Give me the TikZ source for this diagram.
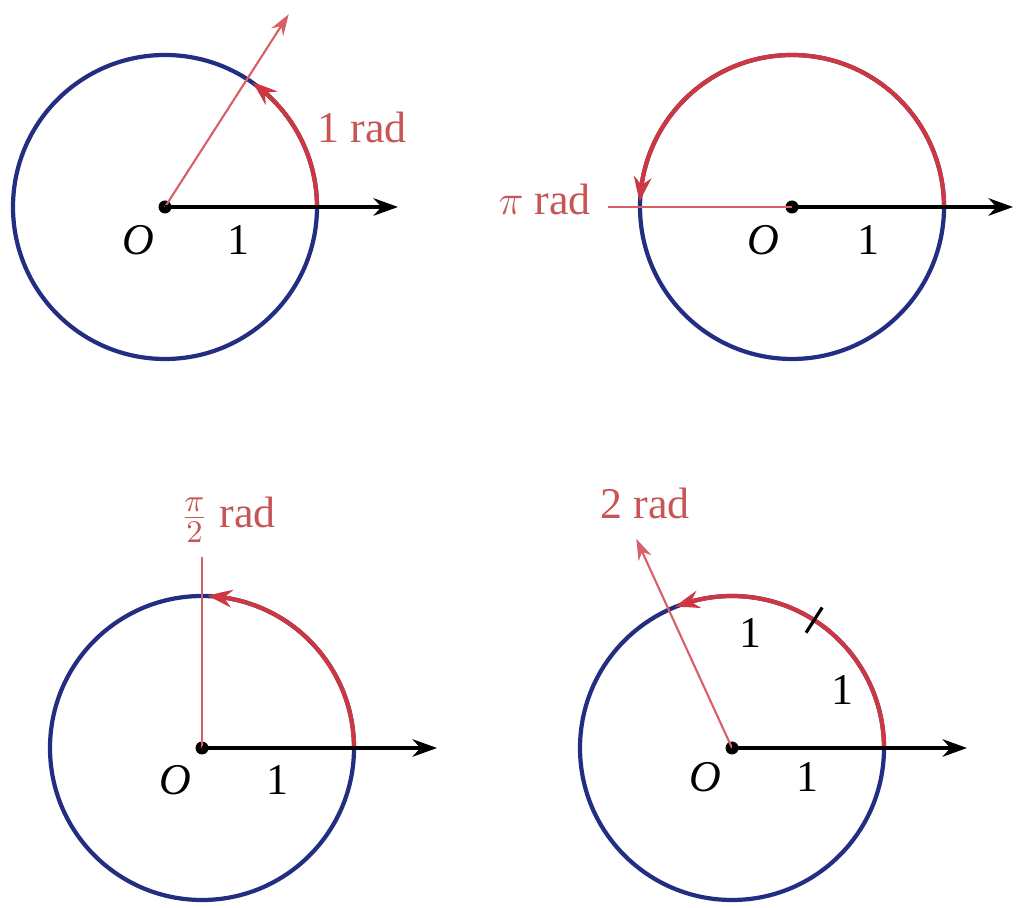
\documentclass[tikz,border=0pt]{standalone}
\usepackage{fontspec}
\setmainfont{Liberation Serif}
\usepackage{tikz}
\usetikzlibrary{arrows.meta, bending, positioning, calc}
\definecolor{circblue}{RGB}{35,45,130}
\definecolor{arcred}{RGB}{205,55,65}
\definecolor{labred}{RGB}{200,85,85}

\begin{document}
\begin{tikzpicture}[
  every node/.style={font=\fontsize{12.5}{15}\selectfont},
  >=Stealth,
  unitcirc/.style={circblue, line width=1.2pt},
  axis/.style={-{Stealth[length=7pt,width=5pt]}, line width=0.9pt},
  redarc/.style={arcred, line width=1.2pt, -{Stealth[length=7pt,width=5pt,bend]}},
  ray/.style={arcred!80, line width=0.6pt},
  lab/.style={text=labred},
  dot/.style={circle, fill, inner sep=0pt, minimum size=1.3mm}
]
\useasboundingbox (0,0) rectangle (10.17,9.07);

% 1 rad
\coordinate (c1) at (1.65,7.00);
\draw[unitcirc] (c1) circle (1.52);
\draw[redarc] ($(c1)+(0:1.52)$) arc (0:55:1.52);
\coordinate (t1) at ($(c1)+(57.3:2.29)$);
\coordinate (x1) at ($(c1)+(2.33,0)$);
\node[dot] (o1) at (c1) {};
\draw[ray, -{Stealth[length=6pt,width=4pt]}] (o1.center) -- (t1);
\draw[axis] (o1.center) -- (x1);
\node (O1) at ($(c1)+(-0.27,-0.33)$) {\textit{O}};
\node (u1) at ($(c1)+(0.73,-0.33)$) {1};
\node[lab] (r1) at ($(c1)+(1.97,0.80)$) {1 rad};

% pi rad
\coordinate (c2) at (7.92,7.00);
\draw[unitcirc] (c2) circle (1.52);
\draw[redarc] ($(c2)+(0:1.52)$) arc (0:178:1.52);
\coordinate (t2) at ($(c2)+(-1.84,0)$);
\coordinate (x2) at ($(c2)+(2.21,0)$);
\node[dot] (o2) at (c2) {};
\draw[ray] (o2.center) -- (t2);
\draw[axis] (o2.center) -- (x2);
\node (O2) at ($(c2)+(-0.29,-0.33)$) {\textit{O}};
\node (u2) at ($(c2)+(0.76,-0.33)$) {1};
\node[lab, anchor=east] (r2) at ($(t2)+(-0.05,0.08)$) {$\pi$ rad};

% pi/2 rad
\coordinate (c3) at (2.02,1.59);
\draw[unitcirc] (c3) circle (1.52);
\draw[redarc] ($(c3)+(0:1.52)$) arc (0:88:1.52);
\coordinate (t3) at ($(c3)+(0,1.91)$);
\coordinate (x3) at ($(c3)+(2.35,0)$);
\node[dot] (o3) at (c3) {};
\draw[ray] (o3.center) -- (t3);
\draw[axis] (o3.center) -- (x3);
\node (O3) at ($(c3)+(-0.27,-0.32)$) {\textit{O}};
\node (u3) at ($(c3)+(0.75,-0.32)$) {1};
\node[lab] (r3) at ($(c3)+(0.26,2.28)$) {$\frac{\pi}{2}$ rad};

% 2 rad
\coordinate (c4) at (7.32,1.59);
\draw[unitcirc] (c4) circle (1.52);
\draw[redarc] ($(c4)+(0:1.52)$) arc (0:112:1.52);
\coordinate (t4) at ($(c4)+(114.6:2.30)$);
\coordinate (x4) at ($(c4)+(2.35,0)$);
\node[dot] (o4) at (c4) {};
\draw[ray, -{Stealth[length=6pt,width=4pt]}] (o4.center) -- (t4);
\draw[axis] (o4.center) -- (x4);
\draw[line width=0.9pt] ($(c4)+(57.3:1.37)$) -- ($(c4)+(57.3:1.67)$);
\node (O4) at ($(c4)+(-0.27,-0.29)$) {\textit{O}};
\node (u4) at ($(c4)+(0.75,-0.29)$) {1};
\node (a4) at ($(c4)+(0.18,1.15)$) {1};
\node (b4) at ($(c4)+(1.10,0.58)$) {1};
\node[lab] (r4) at ($(c4)+(-0.87,2.45)$) {2 rad};
\end{tikzpicture}
\end{document}
